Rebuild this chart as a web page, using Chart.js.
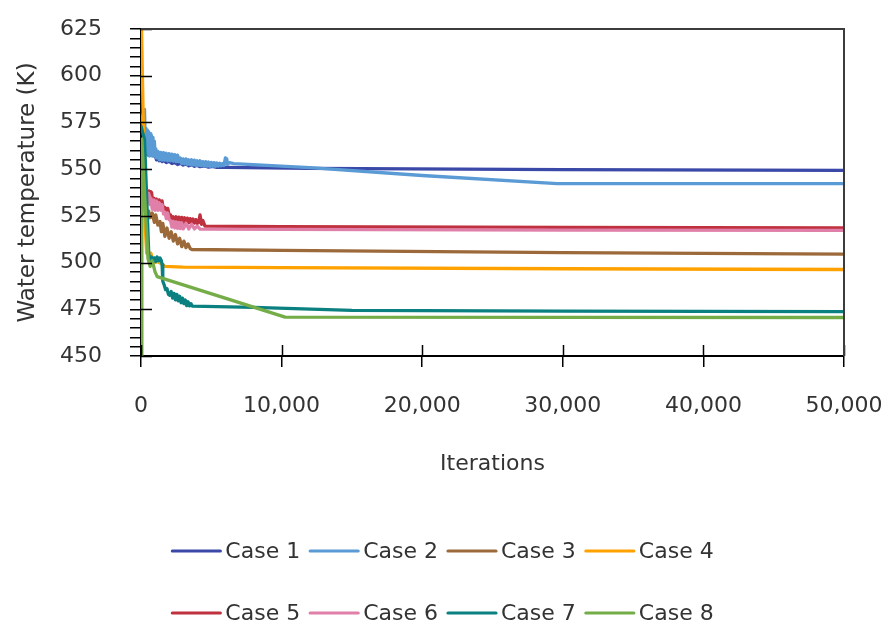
<!DOCTYPE html>
<html>
<head>
<meta charset="utf-8">
<script src="https://cdn.jsdelivr.net/npm/chart.js@4"></script>
<style>
  html, body { margin: 0; padding: 0; background: #fff; }
  canvas { display: block; }
</style>
</head>
<body>
<canvas id="tempChart" width="885" height="628"></canvas>
<script>
// Case names and line colours
const caseNames = ["Case 1", "Case 2", "Case 3", "Case 4", "Case 5", "Case 6", "Case 7", "Case 8"];
const caseColors = ["#3a48a8", "#5b9bd5", "#9c6a3a", "#ffa200", "#c0313f", "#e07fa8", "#0b8080", "#74ad47"];

// Axis ticks
const xTicks = [0, 10000, 20000, 30000, 40000, 50000];
const yTicks = [450, 475, 500, 525, 550, 575, 600, 625];

// [iteration, water temperature (K)]
const case1 = [[0, 575], [300, 568], [400, 558.5], [500, 557.5], [600, 558.5], [700, 557.6], [800, 558.3], [900, 557.2],
    [1000, 557.5], [1100, 555], [1200, 557], [1300, 554.5], [1400, 556], [1500, 554], [1600, 554.8], [1800, 553.5],
    [2000, 554.2], [2200, 553], [2400, 553.6], [2600, 552.5], [2800, 553.2], [3000, 552.2], [3200, 552.8],
    [3400, 551.8], [3600, 552.4], [3800, 551.5], [4000, 552.1], [4200, 551.3], [4500, 551.8], [4800, 551.1],
    [5100, 551.5], [5400, 550.9], [6000, 550.9], [12000, 550.4], [30000, 549.7], [50000, 549.3]];
const case2 = [[0, 575], [250, 582], [300, 566], [350, 572], [400, 559], [450, 571], [500, 558], [550, 570],
    [600, 557], [650, 569], [700, 558], [750, 568], [800, 557], [850, 567], [900, 557], [950, 565], [1000, 559],
    [1050, 561], [1100, 556], [1200, 559.5], [1300, 555], [1400, 559], [1500, 554.8], [1600, 558.8], [1700, 554.8],
    [1800, 558.5], [1900, 554.5], [2000, 558.3], [2100, 554.5], [2200, 558], [2300, 554.3], [2400, 557.8],
    [2500, 554], [2600, 557.5], [2700, 554], [2800, 556], [2900, 553], [3000, 555.5], [3100, 552.8], [3200, 555.5],
    [3300, 552.5], [3400, 555], [3500, 552.5], [3600, 555], [3700, 552.2], [3800, 554.8], [3900, 552], [4000, 554.5],
    [4100, 552], [4200, 554.5], [4300, 551.8], [4400, 554], [4500, 551.7], [4600, 554], [4700, 551.6], [4800, 553.8],
    [4900, 551.5], [5000, 553.6], [5100, 551.5], [5200, 553.5], [5300, 551.5], [5400, 553.3], [5500, 551.6],
    [5600, 553.2], [5700, 551.8], [5800, 553], [5900, 552], [6000, 556], [6100, 555.5], [6150, 552.5], [6300, 553.5],
    [6600, 553], [12000, 550.8], [20000, 546.6], [29600, 542.3], [50000, 542.2]];
const case3 = [[0, 560], [300, 527], [450, 525], [550, 527.5], [650, 524], [800, 526.5], [950, 521.5], [1050, 525.5],
    [1200, 520], [1350, 522], [1450, 516.5], [1550, 521], [1700, 514], [1850, 518.5], [2000, 513], [2150, 516.5],
    [2300, 511.5], [2450, 515], [2600, 510], [2750, 513], [2900, 508.5], [3050, 511.5], [3200, 508], [3350, 510],
    [3500, 507.5], [3600, 507], [10000, 506.5], [30000, 505.3], [50000, 504.5]];
const case4 = [[0, 640], [100, 600], [200, 560], [300, 520], [400, 505], [700, 505], [900, 500], [1200, 500.5],
    [1500, 499], [1700, 498], [3000, 497.6], [10000, 497.3], [30000, 496.7], [50000, 496.3]];
const case5 = [[0, 540], [400, 538], [500, 535], [550, 538.3], [600, 535], [650, 538], [700, 534.6], [750, 537.5],
    [800, 534.5], [900, 534.5], [1000, 531], [1100, 534], [1200, 530.5], [1300, 533.5], [1400, 530.5], [1500, 533],
    [1600, 528], [1700, 529.5], [1800, 526], [1900, 529], [2000, 525.5], [2100, 525.5], [2200, 522], [2300, 524.5],
    [2400, 521.5], [2500, 524.5], [2600, 521.5], [2700, 524.3], [2800, 521.5], [2900, 524.2], [3000, 521.4],
    [3100, 524], [3200, 521.3], [3300, 523.8], [3400, 521.3], [3500, 523.5], [3600, 521.2], [3700, 523.3],
    [3800, 521.1], [3900, 523], [4000, 521], [4100, 521.5], [4200, 525.5], [4300, 520.5], [4400, 522.5],
    [4550, 519.5], [10000, 519.2], [30000, 518.8], [50000, 518.6]];
const case6 = [[0, 545], [350, 540], [400, 537.5], [450, 532], [500, 537], [550, 532], [600, 536], [650, 531],
    [700, 534.5], [800, 528.5], [900, 533.5], [1000, 528], [1100, 533], [1200, 528], [1300, 532], [1400, 528],
    [1500, 531], [1600, 526], [1700, 527], [1800, 523.5], [1900, 526.5], [2000, 523], [2100, 522.5], [2200, 519],
    [2300, 522], [2400, 518.5], [2500, 521.8], [2600, 518.3], [2700, 521.5], [2800, 518.2], [2900, 521.3],
    [3000, 518], [3200, 521], [3400, 518], [3600, 520.5], [3800, 518], [4000, 519.5], [4200, 517.9], [10000, 517.8],
    [30000, 517.4], [50000, 517.2]];
const case7 = [[0, 573], [250, 566], [550, 505], [650, 501], [750, 503], [850, 500.5], [950, 502.5], [1050, 500.5],
    [1150, 503], [1250, 501], [1350, 502.5], [1450, 501], [1500, 499], [1550, 490], [1650, 488], [1750, 485.5],
    [1850, 486], [1950, 483], [2050, 482.5], [2150, 484.5], [2250, 481], [2350, 483.5], [2450, 480], [2550, 483],
    [2650, 479.5], [2750, 482], [2850, 478.5], [2950, 481], [3050, 478], [3150, 480], [3250, 477], [3350, 479],
    [3450, 476.8], [3550, 478], [3650, 476.7], [8000, 476], [15000, 474.4], [30000, 474], [50000, 473.8]];
const case8 = [[0, 430], [60, 566], [300, 530], [500, 502], [650, 498], [800, 501], [1000, 495], [1150, 492.5],
    [10250, 470.8], [30000, 470.7], [50000, 470.6]];

const caseData = [case1, case2, case3, case4, case5, case6, case7, case8];

const fontFamily = '"DejaVu Sans", sans-serif';
const textColor = "#333";

// Ticks crossing into the plot, top/right frame and the legend underneath
const framePlugin = {
    id: "frame",
    afterDraw(chart) {
        const { ctx, chartArea: a, scales: { x, y } } = chart;
        ctx.save();
        ctx.strokeStyle = "#000";
        ctx.lineWidth = 1.5;
        ctx.beginPath();
        yTicks.forEach(v => {
            const py = Math.round(y.getPixelForValue(v)) + 0.5;
            ctx.moveTo(a.left, py);
            ctx.lineTo(a.left + 11, py);
        });
        xTicks.forEach(v => {
            const px = Math.round(x.getPixelForValue(v)) + 0.5;
            ctx.moveTo(px, a.bottom);
            ctx.lineTo(px, a.bottom - 11);
        });
        ctx.stroke();

        ctx.strokeStyle = "#3c3c3c";
        ctx.lineWidth = 2;
        ctx.beginPath();
        ctx.moveTo(a.left, a.top);
        ctx.lineTo(a.right, a.top);
        ctx.lineTo(a.right, a.bottom);
        ctx.stroke();

        // legend: 2 rows of 4
        ctx.font = "22px " + fontFamily;
        ctx.textBaseline = "middle";
        ctx.textAlign = "left";
        const rowY = [551, 613];
        const lineLen = 50, textGap = 4, itemGap = 9;
        [0, 1].forEach(r => {
            const items = caseNames.slice(r * 4, r * 4 + 4);
            const widths = items.map(n => lineLen + textGap + ctx.measureText(n).width);
            const total = widths.reduce((s, w) => s + w, 0) + itemGap * (items.length - 1);
            let cx = (chart.width - total) / 2;
            items.forEach((n, k) => {
                const idx = r * 4 + k;
                ctx.strokeStyle = caseColors[idx];
                ctx.lineWidth = 3.2;
                ctx.lineCap = "round";
                ctx.beginPath();
                ctx.moveTo(cx + 1, rowY[r]);
                ctx.lineTo(cx + lineLen - 1, rowY[r]);
                ctx.stroke();
                ctx.fillStyle = textColor;
                ctx.fillText(n, cx + lineLen + textGap, rowY[r] + 1);
                cx += widths[k] + itemGap;
            });
        });
        ctx.restore();
    }
};

new Chart(document.getElementById("tempChart"), {
    type: "line",
    data: {
        datasets: caseData.map((pts, i) => ({
            label: caseNames[i],
            data: pts.map(p => ({ x: p[0], y: p[1] })),
            borderColor: caseColors[i],
            backgroundColor: caseColors[i],
            borderWidth: 3.3,
            borderJoinStyle: "round",
            borderCapStyle: "round",
            pointRadius: 0,
            tension: 0,
            fill: false,
            order: caseData.length - i
        }))
    },
    options: {
        responsive: false,
        animation: false,
        devicePixelRatio: 1,
        layout: { padding: { top: 29, right: 41, bottom: 151, left: 0 } },
        plugins: {
            legend: { display: false },
            tooltip: { enabled: false }
        },
        scales: {
            x: {
                type: "linear",
                min: 0,
                max: 50000,
                afterBuildTicks: scale => { scale.ticks = xTicks.map(v => ({ value: v })); },
                afterFit: scale => {
                    scale.height = 121;
                    scale.paddingLeft = 0;
                    scale.paddingRight = 0;
                },
                ticks: {
                    autoSkip: false,
                    maxRotation: 0,
                    padding: 26,
                    color: textColor,
                    font: { family: fontFamily, size: 22 },
                    callback: v => v.toLocaleString("en-US")
                },
                grid: { drawOnChartArea: false, drawTicks: true, tickLength: 11, color: "#000", lineWidth: 1.5 },
                border: { display: true, color: "#000", width: 2 },
                title: {
                    display: true,
                    text: "Iterations",
                    color: textColor,
                    font: { family: fontFamily, size: 22 },
                    padding: { top: 0, bottom: 0 }
                }
            },
            y: {
                min: 450,
                max: 625,
                afterFit: scale => {
                    scale.width = 141;
                    scale.paddingTop = 0;
                    scale.paddingBottom = 0;
                },
                ticks: {
                    stepSize: 5,
                    autoSkip: false,
                    padding: 28,
                    color: textColor,
                    font: { family: fontFamily, size: 22 },
                    callback: v => (yTicks.includes(v) ? String(v) : "")
                },
                grid: { drawOnChartArea: false, drawTicks: true, tickLength: 11, color: "#000", lineWidth: 1.5 },
                border: { display: true, color: "#000", width: 2 },
                title: {
                    display: true,
                    text: "Water temperature (K)",
                    color: textColor,
                    font: { family: fontFamily, size: 23 },
                    padding: { top: 14, bottom: 0 }
                }
            }
        }
    },
    plugins: [framePlugin]
});
</script>
</body>
</html>
